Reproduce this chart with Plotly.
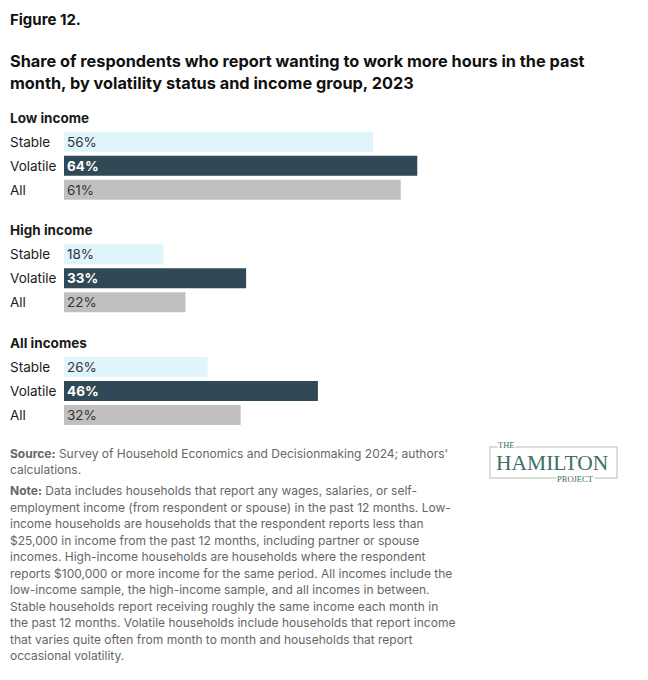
import plotly.graph_objects as go

# data
groups = ["Low income", "High income", "All incomes"]
statuses = ["Stable", "Volatile", "All"]
low_income = [56, 64, 61]
high_income = [18, 33, 22]
all_incomes = [26, 46, 32]
values = [low_income, high_income, all_incomes]

bar_colors = ["#e0f4fb", "#2f4a56", "#c0c0c0"]
text_colors = ["#333333", "#ffffff", "#333333"]

source_lines = [
    "<b>Source:</b> Survey of Household Economics and Decisionmaking 2024; authors'",
    "calculations.",
]
note_lines = [
    "<b>Note:</b> Data includes households that report any wages, salaries, or self-",
    "employment income (from respondent or spouse) in the past 12 months. Low-",
    "income households are households that the respondent reports less than",
    "$25,000 in income from the past 12 months, including partner or spouse",
    "incomes. High-income households are households where the respondent",
    "reports $100,000 or more income for the same period. All incomes include the",
    "low-income sample, the high-income sample, and all incomes in between.",
    "Stable households report receiving roughly the same income each month in",
    "the past 12 months. Volatile households include households that report income",
    "that varies quite often from month to month and households that report",
    "occasional volatility.",
]

# page has an 8px body margin, so the figure is a bit smaller than the window
OFF = 8
W, H = 648 - OFF, 680 - OFF
FONT = "Inter"


def fx(p):
    return max(p - OFF, 0) / W


def fy(p):
    return 1 - (p - OFF) / H


# pixel tops of the three bar blocks (each 3 rows x 24px)
block_tops = [129.7, 242.3, 355.0]

fig = go.Figure()
annotations = []

for i, (grp, vals) in enumerate(zip(groups, values)):
    yname = "y" if i == 0 else f"y{i + 1}"
    txt = [f"<b>{v}%</b>" if s == "Volatile" else f"{v}%" for s, v in zip(statuses, vals)]
    fig.add_trace(go.Bar(
        x=vals, y=statuses, orientation="h",
        xaxis="x", yaxis=yname,
        marker=dict(color=bar_colors, line=dict(width=0)),
        text=txt, textposition="inside", insidetextanchor="start", textangle=0,
        constraintext="none",
        textfont=dict(family=FONT, size=13.5, color=text_colors),
        hoverinfo="skip", showlegend=False,
    ))
    top = block_tops[i]
    axkey = "yaxis" if i == 0 else f"yaxis{i + 1}"
    fig.layout[axkey] = dict(
        domain=[fy(top + 72), fy(top)], type="category",
        categoryorder="array", categoryarray=statuses, autorange="reversed",
        showticklabels=False, showgrid=False, zeroline=False, anchor="x",
        fixedrange=True,
    )
    # group header
    annotations.append(dict(
        text=f"<b>{grp}</b>", xref="paper", yref="paper", x=fx(7), y=fy(top - 12),
        xanchor="left", yanchor="middle", showarrow=False,
        font=dict(family=FONT, size=13.5, color="#1a1a1a"),
    ))
    # row labels, left aligned
    for s in statuses:
        annotations.append(dict(
            text=s, xref="paper", yref=yname, x=fx(7), y=s,
            xanchor="left", yanchor="middle", showarrow=False,
            font=dict(family=FONT, size=13.5, color="#1a1a1a"),
        ))

# titles
annotations.append(dict(
    text="<b>Figure 12.</b>", xref="paper", yref="paper", x=fx(6), y=1,
    xanchor="left", yanchor="top", showarrow=False,
    font=dict(family=FONT, size=15, color="#111111"),
))
annotations.append(dict(
    text="<b>Share of respondents who report wanting to work more hours in the past</b>",
    xref="paper", yref="paper", x=fx(6), y=fy(61),
    xanchor="left", yanchor="middle", showarrow=False,
    font=dict(family=FONT, size=16.3, color="#111111"),
))
annotations.append(dict(
    text="<b>month, by volatility status and income group, 2023</b>",
    xref="paper", yref="paper", x=fx(6), y=fy(83),
    xanchor="left", yanchor="middle", showarrow=False,
    font=dict(family=FONT, size=16.3, color="#111111"),
))

# source and notes
for k, line in enumerate(source_lines):
    annotations.append(dict(
        text=line, xref="paper", yref="paper", x=fx(5), y=fy(453 + 16.3 * k),
        xanchor="left", yanchor="middle", showarrow=False,
        font=dict(family=FONT, size=12, color="#666666"),
    ))
for k, line in enumerate(note_lines):
    annotations.append(dict(
        text=line, xref="paper", yref="paper", x=fx(5), y=fy(490.7 + 16.5 * k),
        xanchor="left", yanchor="middle", showarrow=False,
        font=dict(family=FONT, size=12, color="#666666"),
    ))

# Hamilton Project logo
logo_green = "#3f6d67"
shapes = [dict(
    type="rect", xref="paper", yref="paper",
    x0=fx(490), x1=fx(617), y0=fy(478), y1=fy(447),
    line=dict(color="#c9d6c6", width=1.5), fillcolor="rgba(0,0,0,0)",
)]
annotations.append(dict(
    text="HAMILTON", xref="paper", yref="paper", x=fx(552), y=fy(462.5),
    xanchor="center", yanchor="middle", showarrow=False,
    font=dict(family="Liberation Serif", size=21.5, color=logo_green),
))
annotations.append(dict(
    text="THE", xref="paper", yref="paper", x=fx(506), y=fy(445),
    xanchor="center", yanchor="middle", showarrow=False, bgcolor="white",
    borderpad=0,
    font=dict(family="Liberation Serif", size=8.5, color=logo_green),
))
annotations.append(dict(
    text="PROJECT", xref="paper", yref="paper", x=fx(575), y=fy(478.5),
    xanchor="center", yanchor="middle", showarrow=False, bgcolor="white",
    borderpad=0,
    font=dict(family="Liberation Serif", size=8.5, color=logo_green),
))

fig.update_layout(
    width=W, height=H,
    margin=dict(l=0, r=0, t=0, b=0),
    paper_bgcolor="white", plot_bgcolor="white",
    bargap=4 / 24,
    xaxis=dict(domain=[fx(64), 1], range=[0, 584 / 5.52], visible=False,
               fixedrange=True),
    annotations=annotations, shapes=shapes,
    font=dict(family=FONT),
)

fig.write_html("out.html")
